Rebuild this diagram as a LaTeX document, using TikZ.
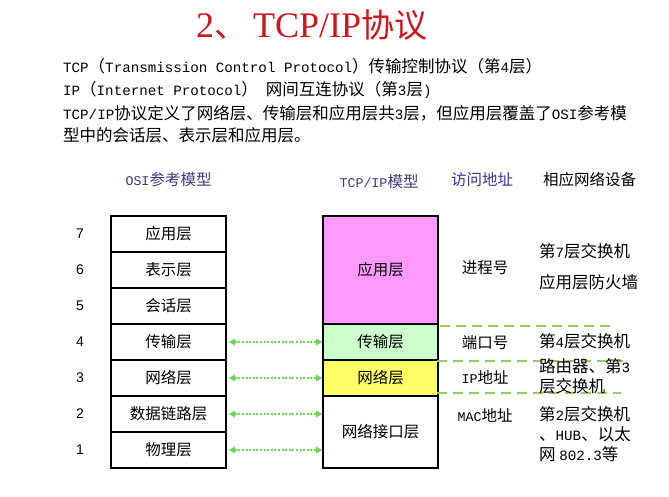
\documentclass[tikz,border=0pt]{standalone}
\usepackage{fontspec}
\setmainfont{Noto Sans CJK SC}
\newfontfamily\latmono[Scale=0.86]{Liberation Mono}
\newfontfamily\numfont{Liberation Sans}
\newfontfamily\titlelat{Liberation Serif}
\newcommand\mono[1]{{\latmono #1}}
\usetikzlibrary{arrows.meta,positioning}
\definecolor{LayerInk}{HTML}{000000}
\definecolor{AppPink}{HTML}{FF99FF}
\definecolor{TransGreen}{HTML}{CCFFCC}
\definecolor{NetYellow}{HTML}{FFFF66}
\definecolor{LinkGreen}{HTML}{6CD85A}
\definecolor{GuideGreen}{HTML}{92D35E}
\definecolor{HeadBlue}{HTML}{3C3C7C}
\definecolor{AddrBlue}{HTML}{333399}
\definecolor{TitleRed}{HTML}{D0141C}
\tikzset{
  every node/.style={inner sep=0pt, text=LayerInk},
  layer/.style={draw=LayerInk, line width=1.3pt, minimum width=115pt, minimum height=36pt, font=\fontsize{15.5}{18}\selectfont},
  heading/.style={font=\fontsize{15.5}{18}\selectfont, text=HeadBlue},
  body/.style={font=\fontsize{16.5}{20}\selectfont, anchor=west},
  number/.style={font=\numfont\fontsize{14}{16}\selectfont},
  address/.style={font=\fontsize{15.5}{18}\selectfont},
  device/.style={font=\fontsize{16.5}{19.5}\selectfont, anchor=west, align=left},
  link/.style={{Triangle[length=6.5pt,width=6.5pt]}-{Triangle[length=6.5pt,width=6.5pt]}, draw=LinkGreen, line width=2pt, dash pattern=on 2pt off 1.6pt},
  guide/.style={draw=GuideGreen, line width=2.5pt, dash pattern=on 10pt off 6pt},
}

\begin{document}
\begin{tikzpicture}[x=1pt, y=-1pt]
  \fill[white] (0,0) rectangle (669,496);
  \useasboundingbox (0,0) rectangle (669,496);
  % Title and notes
  \node[anchor=base west, text=TitleRed, font=\fontsize{33}{40}\selectfont] (title) at (196,37)
    {{\titlelat\fontsize{36}{40}\selectfont 2}、\hspace{6pt}{\titlelat\fontsize{36}{40}\selectfont TCP/IP}协议};
  \node[body] (note1) at (63,66.7)
    {\mono{TCP}（\mono{Transmission Control Protocol}）传输控制协议（第\mono{4}层）};
  \node[body] (note2) at (63,90)
    {\mono{IP}（\mono{Internet Protocol}）\hspace{8pt}网间互连协议（第\mono{3}层\mono{)}};
  \node[body] (note3) at (63,113)
    {\mono{TCP/IP}协议定义了网络层、传输层和应用层共\mono{3}层，但应用层覆盖了\mono{OSI}参考模};
  \node[body] (note4) at (63,135) {型中的会话层、表示层和应用层。};
  % Column headings
  \node[heading] (osihead) at (168.5,180) {\mono{OSI}参考模型};
  \node[heading] (tcphead) at (379,182) {\mono{TCP/IP}模型};
  \node[heading, text=AddrBlue] (addrhead) at (482,180) {访问地址};
  \node[heading, text=LayerInk] (devhead) at (589.5,180) {相应网络设备};
  % OSI stack
  \foreach \n/\name/\y in {7/应用层/234, 6/表示层/270, 5/会话层/306, 4/传输层/342,
                           3/网络层/378, 2/数据链路层/414, 1/物理层/450} {
    \node[layer] (osi\n) at (168.5,\y) {\name};
    \node[number] (num\n) at (80,\y) {\n};
  }
  % TCP/IP stack
  \node[layer, fill=AppPink, minimum height=108pt] (app) at (380.5,270) {应用层};
  \node[layer, fill=TransGreen] (trans) at (380.5,342) {传输层};
  \node[layer, fill=NetYellow] (net) at (380.5,378) {网络层};
  \node[layer, minimum height=72pt] (nif) at (380.5,432) {网络接口层};
  % Correspondence arrows
  \draw[link] ([xshift=2pt]osi4.east) -- (trans.west);
  \draw[link] ([xshift=2pt]osi3.east) -- (net.west);
  \foreach \n in {2,1}
    \draw[link] ([xshift=2pt]osi\n.east) -- (osi\n.east -| nif.west);
  % Separators
  \draw[guide] (440,326) -- (613,326);
  \draw[guide] (437,361) -- (625,361);
  \draw[guide] (437,393) -- (621,393);
  % Addresses
  \node[address] (proc) at (485,268) {进程号};
  \node[address] (port) at (485,343) {端口号};
  \node[address] (ipaddr) at (485,377) {\mono{IP}地址};
  \node[address] (mac) at (485,415) {\mono{MAC}地址};
  % Devices
  \node[device] (dev7) at (539,251) {第\mono{7}层交换机};
  \node[device] (firewall) at (539,282) {应用层防火墙};
  \node[device] (dev4) at (539,341) {第\mono{4}层交换机};
  \node[device] (router) at (539,376.5) {路由器、第\mono{3}\\层交换机};
  \node[device, font=\fontsize{16.5}{20}\selectfont] (dev2) at (539,434)
    {第\mono{2}层交换机\\、\mono{HUB}、以太\\网 \mono{802.3}等};
\end{tikzpicture}
\end{document}
